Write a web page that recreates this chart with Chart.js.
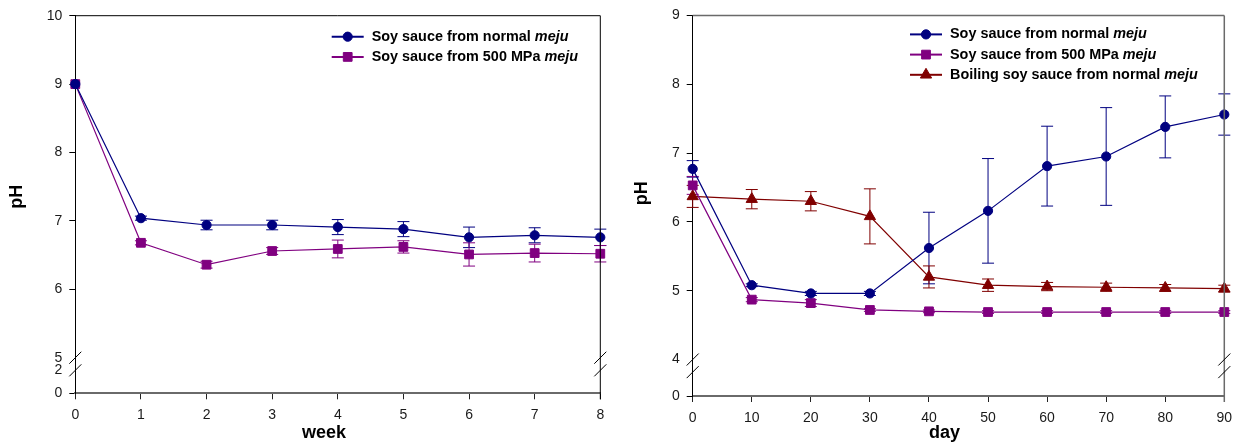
<!DOCTYPE html>
<html>
<head>
<meta charset="utf-8">
<title>pH of soy sauce during fermentation</title>
<script src="https://cdn.jsdelivr.net/npm/chart.js@4.4.1/dist/chart.umd.min.js"></script>
<style>
  html, body { margin: 0; padding: 0; background: #fff; }
  .panel { position: absolute; top: 0; height: 444px; }
</style>
</head>
<body>
<div class="panel" style="left:0;width:620px"><canvas id="weekChart" width="620" height="444"></canvas></div>
<div class="panel" style="left:620px;width:619px"><canvas id="dayChart" width="619" height="444"></canvas></div>
<script>
// ---- Weekly panel data (pH, mean and error) ----
const weeks = [0, 1, 2, 3, 4, 5, 6, 7, 8];
const weekNormal    = [9.00, 7.04, 6.94, 6.94, 6.91, 6.88, 6.76, 6.79, 6.76];
const weekNormalErr = [0.00, 0.03, 0.07, 0.07, 0.11, 0.11, 0.15, 0.11, 0.12];
const week500       = [9.00, 6.68, 6.36, 6.56, 6.59, 6.62, 6.51, 6.53, 6.52];
const week500Err    = [0.00, 0.03, 0.05, 0.05, 0.13, 0.09, 0.17, 0.13, 0.12];
const weekYTicks    = [0, 2, 5, 6, 7, 8, 9, 10];

// ---- Daily panel data (pH, mean and error) ----
const days = [0, 10, 20, 30, 40, 50, 60, 70, 80, 90];
const dayNormal     = [6.77, 5.08, 4.96, 4.96, 5.62, 6.16, 6.81, 6.95, 7.38, 7.56];
const dayNormalErr  = [0.12, 0.02, 0.03, 0.03, 0.52, 0.76, 0.58, 0.71, 0.45, 0.30];
const day500        = [6.53, 4.87, 4.82, 4.72, 4.70, 4.69, 4.69, 4.69, 4.69, 4.69];
const day500Err     = [0.13, 0.03, 0.05, 0.02, 0.02, 0.02, 0.02, 0.02, 0.02, 0.02];
const dayBoiled     = [6.37, 6.33, 6.30, 6.08, 5.20, 5.08, 5.06, 5.05, 5.04, 5.03];
const dayBoiledErr  = [0.16, 0.14, 0.14, 0.40, 0.16, 0.09, 0.06, 0.06, 0.05, 0.05];
const dayYTicks     = [0, 4, 5, 6, 7, 8, 9];

// Legend text: plain part + italic part
const nameNormal = ['Soy sauce from normal ', 'meju'];
const name500    = ['Soy sauce from 500 MPa ', 'meju'];
const nameBoiled = ['Boiling soy sauce from normal ', 'meju'];

const NAVY = '#000080', PURPLE = '#800080', MAROON = '#800000';
const FONT = '"Liberation Sans", Arial, Helvetica, sans-serif';
Chart.defaults.font.family = FONT;
Chart.defaults.color = '#1a1a1a';

// Broken y axis: values at or above `hi` are linear; the low segment below the break is compressed.
function brokenAxis(hi, lo, gap, k) {
  return v => (v >= hi ? v : hi - gap - (lo - v) * k);
}
const weekAxis = brokenAxis(5, 2, 0.184, 0.168);
const dayAxis  = brokenAxis(4, 0, 0.53, 1);

function markerPath(ctx, style, x, y, r) {
  ctx.beginPath();
  if (style === 'circle') {
    ctx.arc(x, y, r, 0, Math.PI * 2);
  } else if (style === 'rect') {
    const s = r * Math.SQRT1_2;
    ctx.rect(x - s, y - s, 2 * s, 2 * s);
  } else {
    for (let i = 0; i < 3; i++) {
      const a = i * 2 * Math.PI / 3;
      const px = x + Math.sin(a) * r, py = y - Math.cos(a) * r;
      i ? ctx.lineTo(px, py) : ctx.moveTo(px, py);
    }
    ctx.closePath();
  }
}

function makeDecor(cfg) {
  return {
    id: 'decor',
    beforeDatasetsDraw(chart) {
      const ctx = chart.ctx, ys = chart.scales.y;
      ctx.save();
      chart.data.datasets.forEach((ds, di) => {
        const meta = chart.getDatasetMeta(di);
        ctx.strokeStyle = ds.borderColor;
        ctx.lineWidth = 1;
        ds.means.forEach((m, i) => {
          const e = ds.errors[i];
          if (!e) return;
          const x = meta.data[i].x;
          const yTop = ys.getPixelForValue(cfg.axis(m + e));
          const yBot = ys.getPixelForValue(cfg.axis(m - e));
          ctx.beginPath();
          ctx.moveTo(x, yTop); ctx.lineTo(x, yBot);
          ctx.moveTo(x - 6, yTop); ctx.lineTo(x + 6, yTop);
          ctx.moveTo(x - 6, yBot); ctx.lineTo(x + 6, yBot);
          ctx.stroke();
        });
      });
      ctx.restore();
    },
    afterDraw(chart) {
      const ctx = chart.ctx, a = chart.chartArea, ys = chart.scales.y;
      ctx.save();
      // top and right frame
      ctx.strokeStyle = cfg.frameColor;
      ctx.lineWidth = cfg.frameWidth;
      ctx.beginPath();
      ctx.moveTo(a.left, a.top); ctx.lineTo(a.right, a.top);
      ctx.moveTo(a.right, a.top); ctx.lineTo(a.right, a.bottom + 6);
      ctx.stroke();
      // break marks on both vertical edges
      const yb = ys.getPixelForValue(cfg.breakAt);
      ctx.strokeStyle = '#000';
      ctx.lineWidth = 1;
      [a.left, a.right].forEach(x => {
        [yb, yb + 12.6].forEach(y => {
          ctx.beginPath();
          ctx.moveTo(x - 6, y + 6); ctx.lineTo(x + 6, y - 6);
          ctx.stroke();
        });
      });
      // legend
      const lx = a.left + cfg.legendDx, ly = a.top + cfg.legendDy;
      chart.data.datasets.forEach((ds, i) => {
        const y = ly + i * 20.2;
        ctx.strokeStyle = ds.borderColor;
        ctx.lineWidth = 2;
        ctx.beginPath(); ctx.moveTo(lx, y); ctx.lineTo(lx + 32, y); ctx.stroke();
        ctx.fillStyle = ds.borderColor;
        ctx.lineWidth = 1;
        markerPath(ctx, ds.pointStyle, lx + 16, y, ds.pointRadius);
        ctx.fill(); ctx.stroke();
        ctx.fillStyle = '#000';
        ctx.textBaseline = 'middle';
        ctx.textAlign = 'left';
        ctx.font = 'bold 14.4px ' + FONT;
        ctx.fillText(ds.name[0], lx + 40, y);
        const w = ctx.measureText(ds.name[0]).width;
        ctx.font = 'italic bold 14.4px ' + FONT;
        ctx.fillText(ds.name[1], lx + 40 + w, y);
      });
      // axis titles
      ctx.fillStyle = '#000';
      ctx.font = 'bold 18px ' + FONT;
      ctx.textAlign = 'center';
      ctx.textBaseline = 'middle';
      ctx.fillText(cfg.xTitle, cfg.xTitlePos[0], cfg.xTitlePos[1]);
      ctx.translate(cfg.yTitlePos[0], cfg.yTitlePos[1]);
      ctx.rotate(-Math.PI / 2);
      ctx.fillText('pH', 0, 0);
      ctx.restore();
    }
  };
}

function series(name, xs, means, errs, axis, color, style, radius) {
  return {
    name, means, errors: errs,
    data: xs.map((x, i) => ({ x, y: axis(means[i]) })),
    borderColor: color, backgroundColor: color,
    pointBackgroundColor: color, pointBorderColor: color,
    pointStyle: style, pointRadius: radius, pointHoverRadius: radius,
    pointBorderWidth: 1, borderWidth: 1.2, tension: 0, clip: false
  };
}

function buildChart(id, o) {
  return new Chart(document.getElementById(id), {
    type: 'line',
    data: { datasets: o.datasets },
    options: {
      responsive: false, animation: false, devicePixelRatio: 1,
      layout: { padding: { top: o.top, right: o.right, bottom: 0, left: 0 } },
      plugins: { legend: { display: false }, tooltip: { enabled: false } },
      scales: {
        x: {
          type: 'linear', min: o.xMin, max: o.xMax,
          afterFit: s => { s.height = o.xHeight; },
          ticks: {
            stepSize: o.xStep, autoSkip: false, maxRotation: 0, padding: 5,
            font: { size: 14, lineHeight: 1.55 }, color: '#1a1a1a'
          },
          grid: { drawOnChartArea: false, drawTicks: true, tickLength: 6, tickColor: '#222', tickWidth: 1 },
          border: { color: '#6a6a6a', width: 2 }
        },
        y: {
          type: 'linear', min: o.axis(0), max: o.yMax,
          afterFit: s => { s.width = o.left; },
          afterBuildTicks: s => { s.ticks = o.yTicks.map(v => ({ value: o.axis(v) })); },
          ticks: {
            autoSkip: false, padding: 7, font: { size: 14 }, color: '#1a1a1a',
            callback: (v, i) => String(o.yTicks[i])
          },
          grid: {
            drawOnChartArea: false, drawTicks: true, tickLength: 6, tickWidth: 1,
            tickColor: c => (o.hiddenTicks.includes(o.yTicks[c.index]) ? 'rgba(0,0,0,0)' : '#000')
          },
          border: { color: '#000', width: 1 }
        }
      }
    },
    plugins: [makeDecor(o.decor)]
  });
}

buildChart('weekChart', {
  datasets: [
    series(nameNormal, weeks, weekNormal, weekNormalErr, weekAxis, NAVY, 'circle', 4.6),
    series(name500, weeks, week500, week500Err, weekAxis, PURPLE, 'rect', 6.2)
  ],
  axis: weekAxis, yTicks: weekYTicks, hiddenTicks: [2, 5], yMax: 10,
  xMin: 0, xMax: 8, xStep: 1,
  top: 15.7, right: 19.7, left: 75.3, xHeight: 50.7,
  decor: {
    axis: weekAxis, breakAt: 5, frameColor: '#000', frameWidth: 1,
    legendDx: 256.4, legendDy: 21,
    xTitle: 'week', xTitlePos: [324, 433], yTitlePos: [17.5, 196.7]
  }
});

buildChart('dayChart', {
  datasets: [
    series(nameNormal, days, dayNormal, dayNormalErr, dayAxis, NAVY, 'circle', 4.6),
    series(name500, days, day500, day500Err, dayAxis, PURPLE, 'rect', 6.2),
    series(nameBoiled, days, dayBoiled, dayBoiledErr, dayAxis, MAROON, 'triangle', 6.5)
  ],
  axis: dayAxis, yTicks: dayYTicks, hiddenTicks: [4], yMax: 9,
  xMin: 0, xMax: 90, xStep: 10,
  top: 13.3, right: 14.7, left: 72.7, xHeight: 48,
  decor: {
    axis: dayAxis, breakAt: 4, frameColor: '#6a6a6a', frameWidth: 1.5,
    legendDx: 217.3, legendDy: 19,
    xTitle: 'day', xTitlePos: [324.5, 433], yTitlePos: [22.5, 193.3]
  }
});
</script>
</body>
</html>
